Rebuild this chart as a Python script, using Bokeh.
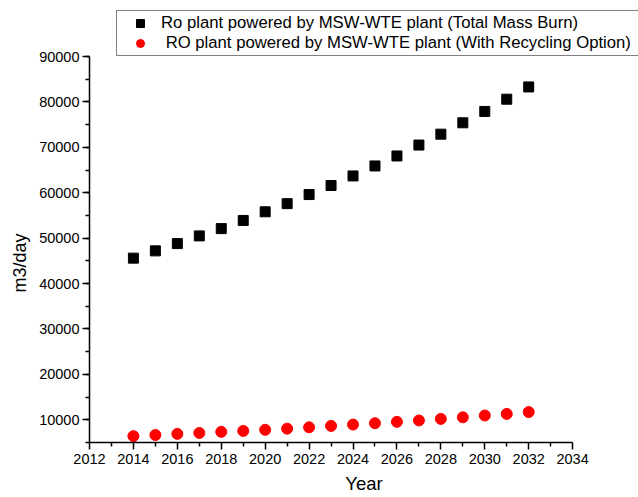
from bokeh.plotting import figure
from bokeh.models import FixedTicker, Legend, LegendItem, Range1d, Title
from bokeh.embed import file_html
from bokeh.resources import INLINE

years = list(range(2014, 2033))
total_mass_burn = [45600, 47200, 48800, 50500, 52100, 53900, 55800, 57600, 59600,
                   61600, 63700, 65900, 68100, 70500, 72900, 75400, 77900, 80600, 83300]
with_recycling = [6400, 6650, 6900, 7100, 7350, 7550, 7800, 8050, 8350,
                  8650, 8950, 9250, 9550, 9850, 10200, 10550, 10950, 11300, 11700]

x_major = list(range(2012, 2035, 2))
x_minor = list(range(2013, 2034, 2))
y_major = list(range(10000, 90001, 10000))
y_minor = list(range(5000, 90001, 5000))

FONT = "Liberation Sans"

# The frame runs to the top and right edges so the legend has room above the
# data; the axes themselves are bounded to the data extents.
p = figure(width=638, height=497, output_backend="svg", toolbar_location=None,
           x_range=Range1d(2012, 2037.0), y_range=Range1d(5000, 102333),
           min_border_left=89, min_border_right=0, min_border_top=0,
           min_border_bottom=55)

p.xgrid.visible = False
p.ygrid.visible = False
p.outline_line_color = None

sq = p.scatter(years, total_mass_burn, marker="square", size=10,
               fill_color="black", line_color="black")
ci = p.scatter(years, with_recycling, marker="circle", size=11,
               fill_color="#ff0000", line_color="#ff0000")

p.xaxis.ticker = FixedTicker(ticks=x_major, minor_ticks=x_minor)
p.yaxis.ticker = FixedTicker(ticks=y_major, minor_ticks=y_minor)
p.xaxis.bounds = (2012, 2034)
p.yaxis.bounds = (5000, 90000)

for ax in (p.xaxis[0], p.yaxis[0]):
    ax.axis_line_width = 1.5
    ax.major_tick_line_width = 1.5
    ax.minor_tick_line_width = 1.5
    ax.major_tick_out = 7
    ax.major_tick_in = 0
    ax.minor_tick_out = 4
    ax.minor_tick_in = 0
    ax.major_label_text_font = FONT
    ax.major_label_text_font_size = "14.5px"
    ax.major_label_text_color = "black"
    ax.axis_label_text_font = FONT
    ax.axis_label_text_font_size = "18.5px"
    ax.axis_label_text_font_style = "normal"
    ax.axis_label_text_color = "black"

p.xaxis.axis_label = "Year"
p.xaxis.major_label_standoff = 4
p.yaxis.major_label_standoff = 3
p.xaxis.axis_label_standoff = 6

# y-axis title, placed along the lower part of the axis
ytitle = Title(text="m3/day", align="left", offset=150, standoff=13,
               text_font=FONT, text_font_size="18px", text_font_style="normal",
               text_color="black")
p.add_layout(ytitle, "left")

legend = Legend(items=[
    LegendItem(label="Ro plant powered by MSW-WTE plant (Total Mass Burn)", renderers=[sq]),
    LegendItem(label=" RO plant powered by MSW-WTE plant (With Recycling Option)", renderers=[ci]),
], location=(27, 386))
legend.label_text_font = FONT
legend.label_text_font_size = "16.7px"
legend.label_text_color = "black"
legend.border_line_color = "black"
legend.border_line_width = 1
legend.background_fill_alpha = 1
legend.padding = 2
legend.margin = 0
legend.spacing = 0
legend.glyph_width = 42
legend.glyph_height = 20
legend.label_height = 20
legend.label_width = 475
legend.label_standoff = 0
p.add_layout(legend, "center")

open("out.html", "w").write(file_html(p, INLINE))
